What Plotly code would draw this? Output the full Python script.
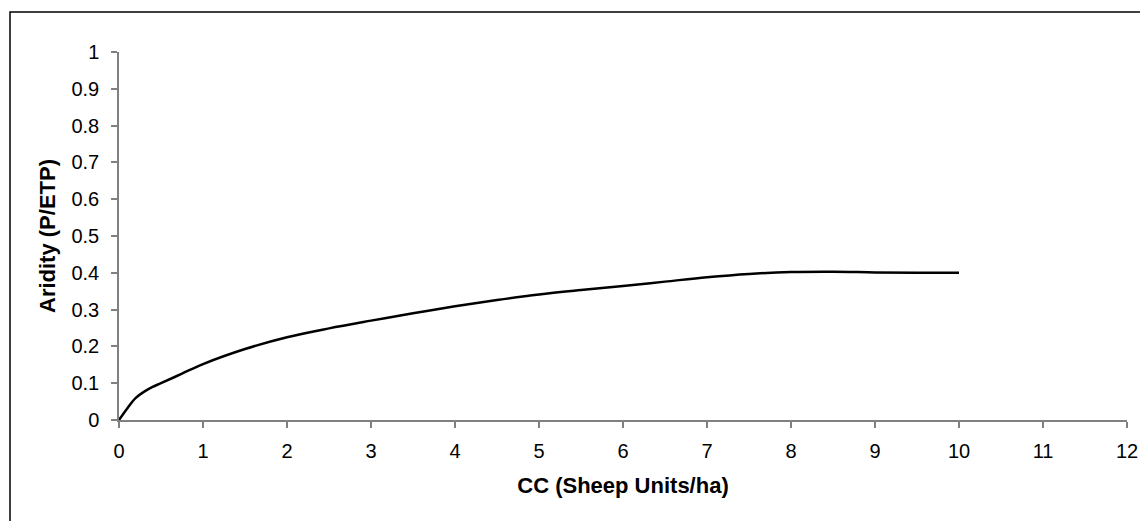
import plotly.graph_objects as go

cc = [0, 0.1, 0.2, 0.3, 0.4, 0.5, 0.75, 1, 1.5, 2, 2.5, 3, 3.5, 4, 4.5, 5, 5.5, 6, 6.5, 7, 7.5, 8, 8.5, 9, 9.5, 10]
aridity = [0, 0.032, 0.06, 0.077, 0.09, 0.1, 0.126, 0.152, 0.193, 0.225, 0.249, 0.270, 0.290, 0.309, 0.326, 0.341, 0.353, 0.364, 0.376, 0.388, 0.397, 0.402, 0.403, 0.401, 0.400, 0.400]

x_ticks = list(range(0, 13))
y_ticks = [round(i * 0.1, 1) for i in range(11)]
y_tick_text = ["0"] + [f"{v:g}" for v in y_ticks[1:]]

FONT = "Liberation Sans, Arial, sans-serif"

# page body has an 8px margin; figure is sized/offset to compensate
W, H = 1140, 513
L, R, T, B = 111, 21, 44, 101
PW = W - L - R
PH = H - T - B

fig = go.Figure()
fig.add_trace(go.Scatter(
    x=cc, y=aridity, mode="lines",
    line=dict(color="black", width=2.5, shape="spline", smoothing=1.0),
    showlegend=False, hoverinfo="skip",
))

fig.update_layout(
    width=W, height=H,
    margin=dict(l=L, r=R, t=T, b=B, autoexpand=False),
    paper_bgcolor="white", plot_bgcolor="white",
    font=dict(family=FONT, size=20, color="black"),
    xaxis=dict(
        range=[0, 12], tickvals=x_ticks, ticktext=[str(v) for v in x_ticks],
        showgrid=False, zeroline=False, showline=True, linecolor="#808080", linewidth=1.5,
        ticks="outside", ticklen=6, tickcolor="#808080", tickwidth=1.5,
        ticklabelstandoff=6,
        title=dict(text="<b>CC (Sheep Units/ha)</b>", font=dict(size=22), standoff=17),
        automargin=False, fixedrange=True,
    ),
    yaxis=dict(
        range=[0, 1], tickvals=y_ticks, ticktext=y_tick_text,
        showgrid=False, zeroline=False, showline=True, linecolor="#808080", linewidth=1.5,
        ticks="outside", ticklen=6, tickcolor="#808080", tickwidth=1.5,
        ticklabelstandoff=8,
        title=dict(text="<b>Aridity (P/ETP)</b>", font=dict(size=22), standoff=10),
        automargin=False, fixedrange=True,
    ),
    shapes=[dict(
        type="rect", xref="paper", yref="paper",
        x0=(2 - L) / PW, x1=1.2,
        y0=-0.5, y1=1 + (T - 4) / PH,
        line=dict(color="black", width=1.5), fillcolor="rgba(0,0,0,0)", layer="below",
    )],
)

fig.write_html("out.html", config={"displayModeBar": False})
